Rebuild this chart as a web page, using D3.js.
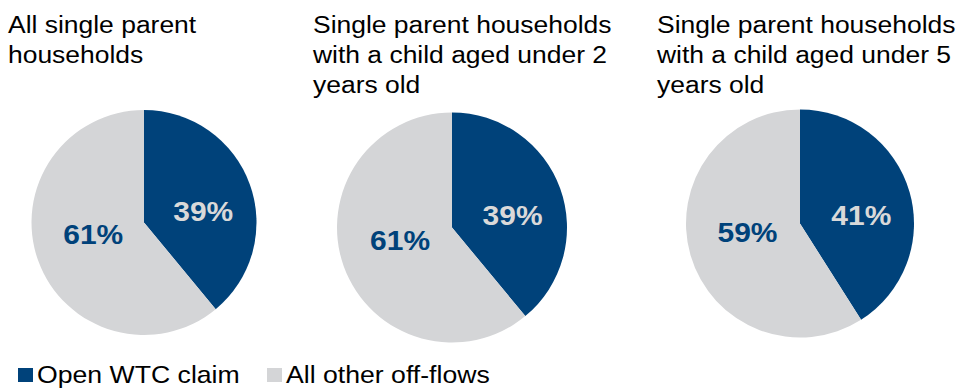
<!DOCTYPE html>
<html>
<head>
<meta charset="utf-8">
<script src="https://cdn.jsdelivr.net/npm/d3@7"></script>
<style>
  html, body { margin: 0; padding: 0; background: #fff; overflow: hidden; }
  svg { display: block; font-family: "Liberation Sans", Arial, sans-serif; }
</style>
</head>
<body>
<svg id="chart" width="960" height="388"></svg>
<script>
// ---- data ----
const series = ["Open WTC claim", "All other off-flows"];
const titles = [
  ["All single parent", "households"],
  ["Single parent households", "with a child aged under 2", "years old"],
  ["Single parent households", "with a child aged under 5", "years old"]
];
const openWTC = [39, 39, 41];
const otherOffFlows = [61, 61, 59];

// ---- layout / style ----
const colors = d3.scaleOrdinal().domain(series).range(["#00427a", "#d4d5d7"]);
const labelColors = d3.scaleOrdinal().domain(series).range(["#d9d9d9", "#00427a"]);
const pies = [
  { cx: 144, cy: 222.5, r: 112.5, tx: 8 },
  { cx: 452, cy: 227.5, r: 115, tx: 313 },
  { cx: 800, cy: 223.5, r: 114, tx: 657 }
];
const labelRatio = [0.56, 0.48];
const labelDy = [10, -6];
const sx = 1.09; // horizontal glyph stretch seen in the reference

const svg = d3.select("#chart");

const pie = d3.pie().sort(null).value(d => d.value);

pies.forEach((p, i) => {
  const data = [
    { key: series[0], value: openWTC[i] },
    { key: series[1], value: otherOffFlows[i] }
  ];
  const arcs = pie(data);
  const arc = d3.arc().innerRadius(0).outerRadius(p.r);
  const g = svg.append("g").attr("transform", `translate(${p.cx},${p.cy})`);
  g.selectAll("path").data(arcs).join("path")
    .attr("d", arc)
    .attr("fill", d => colors(d.data.key));
  g.selectAll("text").data(arcs).join("text")
    .attr("transform", (d, j) => {
      const a = (d.startAngle + d.endAngle) / 2;
      const k = p.r * labelRatio[j];
      return `translate(${k * Math.sin(a)},${-k * Math.cos(a) + labelDy[j]}) scale(${sx},1)`;
    })
    .attr("text-anchor", "middle")
    .attr("dominant-baseline", "central")
    .attr("font-size", 27.5)
    .attr("font-weight", "bold")
    .attr("fill", d => labelColors(d.data.key))
    .text(d => d.data.value + "%");

  const t = svg.append("text")
    .attr("transform", `translate(${p.tx},33) scale(1.08,1)`)
    .attr("font-size", 24.5)
    .attr("fill", "#000");
  titles[i].forEach((line, li) => {
    t.append("tspan").attr("x", 0).attr("dy", li === 0 ? 0 : 30).text(line);
  });
});

// legend
const legendItems = [
  { key: series[0], x: 18 },
  { key: series[1], x: 267 }
];
const lg = svg.append("g");
legendItems.forEach(item => {
  lg.append("rect")
    .attr("x", item.x).attr("y", 368)
    .attr("width", 15).attr("height", 14)
    .attr("fill", colors(item.key));
  lg.append("text")
    .attr("transform", `translate(${item.x + 19},383) scale(1.11,1)`)
    .attr("font-size", 24)
    .attr("fill", "#000")
    .text(item.key);
});
</script>
</body>
</html>
